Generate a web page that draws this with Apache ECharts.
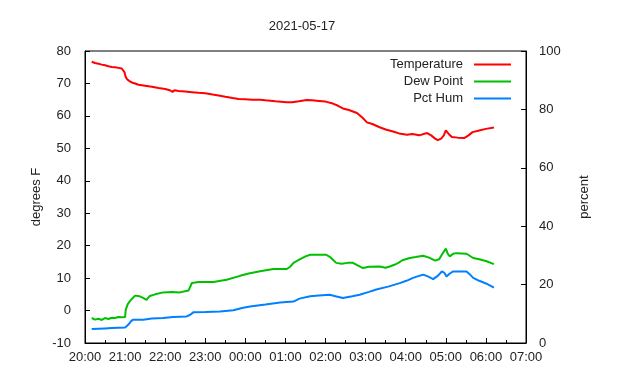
<!DOCTYPE html>
<html>
<head>
<meta charset="utf-8">
<script src="https://cdn.jsdelivr.net/npm/echarts@6/dist/echarts.min.js"></script>
<style>html,body{margin:0;padding:0;background:#fff}#c{width:640px;height:380px}</style>
</head>
<body>
<div id="c"></div>
<script>
var titleText = "2021-05-17";
var seriesNames = ["Temperature", "Dew Point", "Pct Hum"];
var xTickLabels = ["20:00","21:00","22:00","23:00","00:00","01:00","02:00","03:00","04:00","05:00","06:00","07:00"];

var tempTimes = ["20:10","20:15","20:20","20:25","20:30","20:35","20:40","20:45","20:50","20:55","20:57","20:59","21:01","21:03","21:06","21:10","21:15","21:20","21:30","21:40","21:50","22:00","22:07","22:11","22:14","22:20","22:30","22:40","22:50","23:00","23:11","23:20","23:30","23:41","23:50","00:00","00:10","00:22","00:30","00:45","01:02","01:10","01:20","01:32","01:40","01:50","02:00","02:11","02:18","02:26","02:35","02:47","02:55","03:02","03:10","03:21","03:30","03:41","03:50","04:02","04:10","04:20","04:32","04:38","04:44","04:48","04:53","04:57","05:00","05:04","05:09","05:18","05:28","05:34","05:40","05:50","06:00","06:12"];
var tempValues = [76.7,76.3,76.1,75.8,75.6,75.3,75.1,75.0,74.8,74.6,74.3,73.5,72.0,71.3,70.8,70.3,70.0,69.6,69.3,69.0,68.6,68.3,67.9,67.4,67.9,67.7,67.5,67.3,67.1,67.0,66.6,66.3,65.9,65.5,65.2,65.1,65.0,65.0,64.8,64.5,64.2,64.2,64.5,64.9,64.8,64.6,64.4,63.8,63.2,62.3,61.8,60.9,59.5,58.0,57.5,56.5,55.8,55.2,54.6,54.2,54.4,54.0,54.7,54.0,53.0,52.5,53.0,54.0,55.5,54.5,53.5,53.3,53.2,54.0,55.0,55.5,56.0,56.4];

var dewTimes = ["20:10","20:15","20:20","20:25","20:30","20:35","20:40","20:45","20:50","20:55","21:00","21:01","21:04","21:07","21:11","21:15","21:22","21:27","21:32","21:37","21:45","21:57","22:10","22:22","22:35","22:40","22:50","23:12","23:32","23:52","00:05","00:22","00:42","01:02","01:07","01:12","01:20","01:30","01:37","02:01","02:08","02:16","02:24","02:33","02:41","02:48","02:56","03:05","03:21","03:30","03:36","03:43","03:49","03:55","04:06","04:15","04:26","04:35","04:44","04:50","04:54","05:00","05:03","05:06","05:11","05:16","05:31","05:41","05:50","06:01","06:12"];
var dewValues = [-2.3,-2.8,-2.5,-2.9,-2.3,-2.6,-2.2,-2.3,-2.0,-2.1,-2.0,0.3,2.0,2.8,3.8,4.6,4.4,3.9,3.3,4.5,5.0,5.6,5.7,5.6,6.2,8.5,8.8,8.8,9.5,10.7,11.4,12.1,12.8,12.8,13.5,14.7,15.6,16.7,17.2,17.2,16.3,14.7,14.4,14.7,14.7,13.9,13.1,13.5,13.6,13.2,13.6,14.1,14.7,15.5,16.2,16.5,16.9,16.3,15.4,15.8,17.2,19.1,17.5,16.7,17.5,17.7,17.5,16.2,15.8,15.2,14.3];

var humTimes = ["20:10","20:20","20:30","20:40","20:50","21:00","21:05","21:09","21:12","21:27","21:40","21:57","22:12","22:32","22:37","22:42","23:00","23:22","23:42","23:55","00:07","00:30","00:52","01:12","01:21","01:37","01:50","02:06","02:15","02:26","02:40","02:51","03:05","03:16","03:35","03:51","04:01","04:11","04:20","04:26","04:33","04:41","04:48","04:54","04:58","05:01","05:06","05:11","05:31","05:36","05:41","05:50","06:01","06:12"];
var humValues = [4.8,4.9,5.0,5.1,5.2,5.3,6.3,7.5,8.0,8.0,8.4,8.6,8.9,9.1,9.6,10.5,10.6,10.8,11.2,12.0,12.5,13.2,13.9,14.2,15.2,16.0,16.3,16.5,16.0,15.4,16.0,16.5,17.5,18.3,19.4,20.5,21.3,22.3,23.0,23.4,22.8,21.9,23.0,24.5,24.0,22.8,23.8,24.5,24.5,23.5,22.3,21.3,20.3,19.0];

function toHours(t) {
  var p = t.split(":");
  var h = parseInt(p[0], 10), m = parseInt(p[1], 10);
  if (h < 12) h += 24;
  return h + m / 60;
}
function pairs(times, vals) {
  return times.map(function (t, i) { return [toHours(t), vals[i]]; });
}

var FONT = "Liberation Sans";
var chart = echarts.init(document.getElementById("c"), null, { renderer: "canvas" });
var legendBase = {
  orient: "vertical", right: 129, icon: "rect", itemWidth: 37, itemHeight: 2,
  textStyle: { fontFamily: FONT, fontSize: 13, color: "#222", padding: [0, 6, 0, 0] },
  align: "right", selectedMode: false, padding: 0
};
chart.setOption({
  animation: false,
  title: {
    text: titleText, left: 297, top: 15, textAlign: "center",
    textStyle: { fontFamily: FONT, fontSize: 13, fontWeight: "normal", color: "#222" }
  },
  legend: [
    Object.assign({}, legendBase, { data: [seriesNames[0]], top: 58 }),
    Object.assign({}, legendBase, { data: [seriesNames[1]], top: 75 }),
    Object.assign({}, legendBase, { data: [seriesNames[2]], top: 92 })
  ],
  grid: { left: 85, right: 114, top: 51, bottom: 37, show: true, borderColor: "#000", borderWidth: 1, backgroundColor: "transparent" },
  xAxis: {
    type: "value", min: 20, max: 31, interval: 1,
    axisLine: { show: true, onZero: false, lineStyle: { color: "#000", width: 1 } },
    axisTick: { show: true, inside: true, length: 5, lineStyle: { color: "#000" } },
    minorTick: { show: true, splitNumber: 2, length: 3, lineStyle: { color: "#000" } },
    splitLine: { show: false },
    axisLabel: {
      margin: 8, fontFamily: FONT, fontSize: 13, color: "#222",
      formatter: function (v) { return xTickLabels[Math.round(v - 20)]; }
    }
  },
  yAxis: [
    {
      type: "value", min: -10, max: 80, interval: 10, name: "degrees F",
      nameLocation: "middle", nameGap: 42, nameRotate: 90, nameMoveOverlap: false,
      nameTextStyle: { fontFamily: FONT, fontSize: 13, color: "#222" },
      axisLine: { show: true, onZero: false, lineStyle: { color: "#000" } },
      axisTick: { show: true, inside: true, length: 5, lineStyle: { color: "#000" } },
      splitLine: { show: false },
      axisLabel: { margin: 14, fontFamily: FONT, fontSize: 13, color: "#222" }
    },
    {
      type: "value", min: 0, max: 100, interval: 20, name: "percent", position: "right",
      nameLocation: "middle", nameGap: 52, nameRotate: 90,
      nameTextStyle: { fontFamily: FONT, fontSize: 13, color: "#222" },
      axisLine: { show: true, onZero: false, lineStyle: { color: "#000" } },
      axisTick: { show: true, inside: true, length: 5, lineStyle: { color: "#000" } },
      splitLine: { show: false },
      axisLabel: { margin: 13, fontFamily: FONT, fontSize: 13, color: "#222" }
    }
  ],
  series: [
    { name: seriesNames[0], type: "line", yAxisIndex: 0, data: pairs(tempTimes, tempValues), showSymbol: false, symbol: "none", color: "#ff0000", lineStyle: { width: 2, color: "#ff0000" } },
    { name: seriesNames[1], type: "line", yAxisIndex: 0, data: pairs(dewTimes, dewValues), showSymbol: false, symbol: "none", color: "#00c000", lineStyle: { width: 2, color: "#00c000" } },
    { name: seriesNames[2], type: "line", yAxisIndex: 1, data: pairs(humTimes, humValues), showSymbol: false, symbol: "none", color: "#0080ff", lineStyle: { width: 2, color: "#0080ff" } }
  ]
});
</script>
</body>
</html>
